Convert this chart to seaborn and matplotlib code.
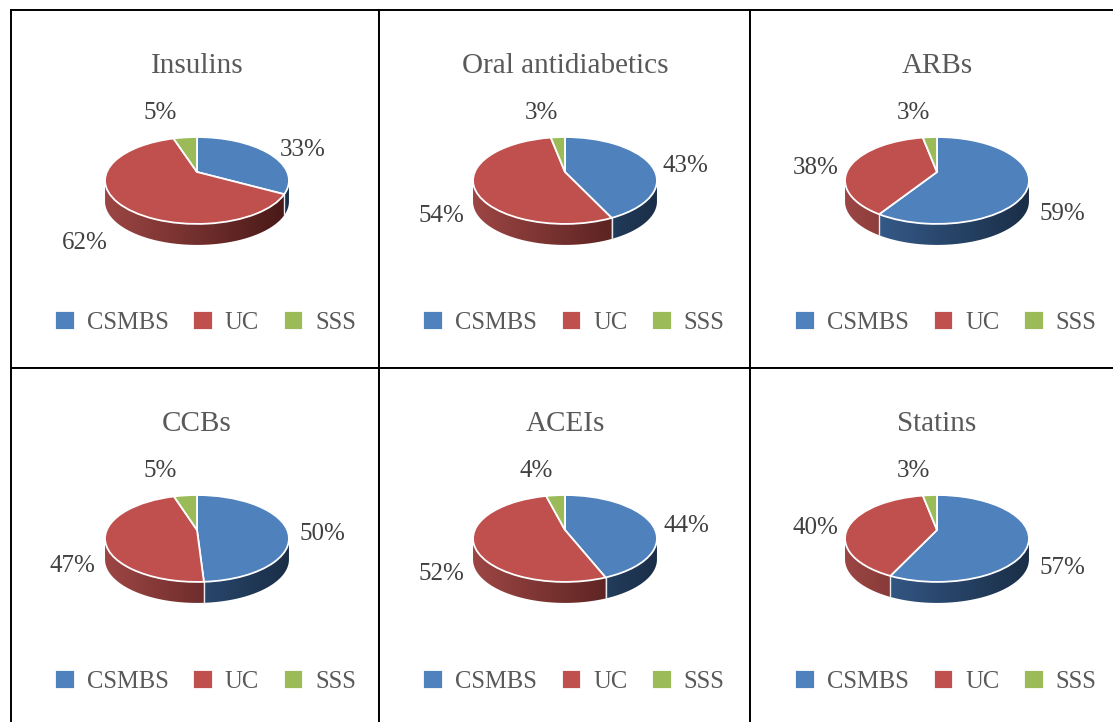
import numpy as np
import matplotlib
matplotlib.use('Agg')
import matplotlib.pyplot as plt
from matplotlib.colors import LinearSegmentedColormap
from matplotlib.patches import Polygon
from matplotlib.transforms import Transform
import seaborn as sns

# Values
drugs = ['Insulins', 'Oral antidiabetics', 'ARBs', 'CCBs', 'ACEIs', 'Statins']
schemes = ['CSMBS', 'UC', 'SSS']
csmbs = [33, 43, 59, 50, 44, 57]
uc = [62, 54, 38, 47, 52, 40]
sss = [5, 3, 3, 5, 4, 3]

# Cell edges and label spots, in picture pixels
col_edges = [11, 378.5, 750, 1116]
row_edges = [10, 368, 726]
pie_x = [197, 565, 937]
pie_y = [172, 530]
legend_x = [205.5, 574, 946]
legend_y = [322.5, 681.5]
title_y = [66, 424]
label_spots = [
    [(303, 150), (85, 243), (160, 113)],
    [(685, 166), (441, 216), (541, 113)],
    [(1062, 214), (816, 168), (913, 113)],
    [(322, 534), (72, 566), (160, 471)],
    [(686, 526), (441, 574), (536, 471)],
    [(1062, 568), (815, 528), (913, 471)],
]

WIDTH, HEIGHT = 1113, 722
# tilted disc: half width, half height and perspective strength
A, B, K = 90.2, 41.8, 0.195
DEPTH = 21

sns.set_theme(style='white', font='Liberation Serif')
colors = sns.color_palette(['#4F81BD', '#C0504D', '#9BBB59'])
side_colors = [('#3A6396', '#1A2E47'), ('#9C4644', '#471816'), ('#7E9A48', '#3F4F22')]


def tilt(x, y, cx, cy):
    d = 1 + K * y
    return cx + A * x / d, cy - B * y / d


class Tilt(Transform):
    input_dims = 2
    output_dims = 2

    def __init__(self, cx, cy):
        super().__init__()
        self.cx = cx
        self.cy = cy

    def transform_non_affine(self, values):
        values = np.asarray(values)
        px, py = tilt(values[:, 0], values[:, 1], self.cx, self.cy)
        return np.column_stack([px, py])


def draw_side(ax, cx, cy, shares):
    # only the front of the rim shows
    limit = np.arccos(-K)
    ends = np.cumsum(shares) / np.sum(shares) * 2 * np.pi
    starts = np.r_[0, ends[:-1]]
    for i, (t0, t1) in enumerate(zip(starts, ends)):
        t0 = max(t0, limit)
        t1 = min(t1, 2 * np.pi - limit)
        if t1 <= t0:
            continue
        phi = np.linspace(t0, t1, 80)
        px, py = tilt(np.sin(phi), np.cos(phi), cx, cy)
        outline = np.r_[np.column_stack([px, py]),
                        np.column_stack([px, py + DEPTH])[::-1]]
        cmap = LinearSegmentedColormap.from_list('side', side_colors[i])
        im = ax.imshow(np.linspace(0, 1, 256)[None, :], cmap=cmap, aspect='auto',
                       extent=(cx - 92, cx + 92, cy + 90, cy - 40), zorder=1)
        im.set_clip_path(Polygon(outline, transform=ax.transData))
        if t1 < 2 * np.pi - limit:
            ax.plot([px[-1], px[-1]], [py[-1], py[-1] + DEPTH], color='#e6ebf1',
                    lw=1.0, zorder=1.5)


fig = plt.figure(figsize=(WIDTH / 100, HEIGHT / 100), dpi=100)

for n, drug in enumerate(drugs):
    row, col = divmod(n, 3)
    x0, x1 = col_edges[col], col_edges[col + 1]
    y0, y1 = row_edges[row], row_edges[row + 1]
    ax = fig.add_axes([x0 / WIDTH, 1 - y1 / HEIGHT, (x1 - x0) / WIDTH, (y1 - y0) / HEIGHT])
    cx, cy = pie_x[col], pie_y[row]
    shares = [csmbs[n], uc[n], sss[n]]

    draw_side(ax, cx, cy, shares)
    wedges, _ = ax.pie(shares, colors=colors, startangle=90, counterclock=False,
                       wedgeprops={'edgecolor': 'white', 'linewidth': 1.3})
    for w in wedges:
        w.set_transform(Tilt(cx, cy) + ax.transData)
        w.set_zorder(2)

    ax.set_aspect('auto')
    ax.set_frame_on(True)
    ax.set_xlim(x0, x1)
    ax.set_ylim(y1, y0)
    ax.set_xticks([])
    ax.set_yticks([])
    for spine in ax.spines.values():
        spine.set_visible(True)
        spine.set_color('black')
        spine.set_linewidth(1.4)

    ax.text(cx, title_y[row], drug, ha='center', va='center', fontsize=21, color='#595959')
    for value, (lx, ly) in zip(shares, label_spots[n]):
        ax.text(lx, ly, f'{value}%', ha='center', va='center', fontsize=18, color='#404040')

    ax.legend(wedges, schemes, loc='center', ncol=3, frameon=False, fontsize=17.7,
              labelcolor='#595959', handlelength=0.8, handleheight=0.8,
              handletextpad=0.49, columnspacing=1.0, borderpad=0, borderaxespad=0,
              bbox_to_anchor=(legend_x[col], legend_y[row]),
              bbox_transform=ax.transData)

fig.savefig('out.png', dpi=100)
